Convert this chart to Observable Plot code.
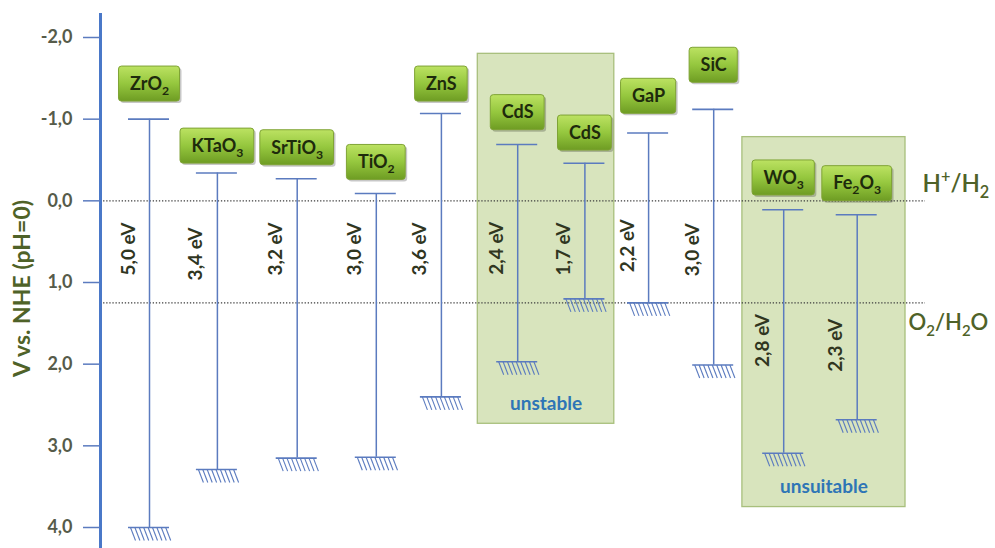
<!DOCTYPE html>
<html><head><meta charset="utf-8">
<script src="https://cdn.jsdelivr.net/npm/d3@7"></script>
<script src="https://cdn.jsdelivr.net/npm/@observablehq/plot@0.6"></script>
<style>
html,body{margin:0;padding:0;background:#fff;}
#chart svg{display:block;}
</style></head><body><div id="chart"></div>
<script>
// ---- data ----
const materials = ["ZrO_2","KTaO_3","SrTiO_3","TiO_2","ZnS","CdS","CdS","GaP","SiC","WO_3","Fe_2O_3"];
const slot = [0.70,1.67,2.81,3.94,4.87,5.96,6.92,7.83,8.76,9.76,10.81];
const conductionBand = [-1.00,-0.34,-0.27,-0.09,-1.07,-0.69,-0.46,-0.83,-1.12,0.11,0.17];
const valenceBand = [4.00,3.29,3.15,3.14,2.40,1.97,1.20,1.25,2.01,3.09,2.68];
const gapLabels = ["5,0 eV","3,4 eV","3,2 eV","3,0 eV","3,6 eV","2,4 eV","1,7 eV","2,2 eV","3,0 eV","2,8 eV","2,3 eV"];
const gapLabelV = [0.59,0.65,0.59,0.59,0.59,0.58,0.59,0.55,0.60,1.71,1.77];
const nameLabelV = [-1.43,-0.67,-0.65,-0.47,-1.43,-1.08,-0.83,-1.28,-1.66,-0.28,-0.21];
const yTicks = [-2,-1,0,1,2,3,4];
const yTickLabels = ["-2,0","-1,0","0,0","1,0","2,0","3,0","4,0"];
const redoxLabels = ["H^+/H_2","O_2/H_2O"];
const redoxV = [0, 1.25];
const regionLabels = ["unstable","unsuitable"];
const regionFrom = [5.39, 9.17];
const regionTo = [7.34, 11.50];
const regionTop = [-1.80, -0.78];
const regionBottom = [2.73, 3.75];
const yAxisLabel = "V vs. NHE (pH=0)";

// ---- layout ----
const W = 995, H = 548, mL = 100, mR = 20, mT = 37, mB = 21;
const xDomain = [0, 12.5], yDomain = [-2, 4];
const pxX = (W - mL - mR) / (xDomain[1] - xDomain[0]);
const pxY = (H - mT - mB) / (yDomain[1] - yDomain[0]);
const ux = p => p / pxX, uy = p => p / pxY;

const FONT = "Lato";
const boxFs = 18;
const ctx = document.createElement("canvas").getContext("2d");
function runs(s){
  const out = [];
  for (let i = 0; i < s.length; i++){
    let c = s[i], mode = 0;
    if ((c === "_" || c === "^") && i + 1 < s.length){ mode = c === "_" ? 1 : -1; c = s[++i]; }
    if (out.length && out[out.length-1].mode === mode) out[out.length-1].t += c;
    else out.push({mode, t: c});
  }
  return out;
}
function measure(s, fs){
  let w = 0;
  for (const r of runs(s)){
    ctx.font = `bold ${r.mode ? fs*0.68 : fs}px ${FONT}`;
    w += ctx.measureText(r.t).width;
  }
  return w;
}

const rows = materials.map((m, i) => ({
  name: m, x: slot[i], cb: conductionBand[i], vb: valenceBand[i],
  gap: gapLabels[i], gapV: gapLabelV[i], nameV: nameLabelV[i],
  w: measure(m, boxFs) + 22
}));
const hatch = rows.flatMap(r => d3.range(9).map(k => ({
  x1: r.x + ux(-19 + k*4.4), y1: r.vb,
  x2: r.x + ux(-19 + k*4.4 + 5), y2: r.vb + uy(13)
})));
const regions = regionLabels.map((l, i) => ({label: l, x1: regionFrom[i], x2: regionTo[i], top: regionTop[i], bottom: regionBottom[i]}));

const lineColor = "#5b7bbf";
const boxH = 35;

const svg = Plot.plot({
  width: W, height: H,
  marginLeft: mL, marginRight: mR, marginTop: mT, marginBottom: mB,
  style: {fontFamily: FONT, background: "#fff"},
  x: {domain: xDomain, axis: null},
  y: {domain: yDomain, reverse: true, axis: null},
  marks: [
    Plot.rect(regions, {x1: "x1", x2: "x2", y1: "top", y2: "bottom", fill: "#d8e4bd", stroke: "#a8bf7c", strokeWidth: 1.3}),
    Plot.ruleY(redoxV, {x1: xDomain[0], x2: xDomain[1] - ux(50), stroke: "#3c3c3c", strokeWidth: 1.4, strokeDasharray: "1.3,1.8"}),
    Plot.text(regions, {x: d => (d.x1 + d.x2)/2, y: "bottom", dy: -20, text: "label", fill: "#2e75b6", fontSize: 19, fontWeight: "bold"}),
    Plot.ruleX(rows, {x: "x", y1: "cb", y2: "vb", stroke: lineColor, strokeWidth: 1.5}),
    Plot.ruleY(rows, {y: "cb", x1: d => d.x - ux(21), x2: d => d.x + ux(20), stroke: lineColor, strokeWidth: 1.6}),
    Plot.ruleY(rows, {y: "vb", x1: d => d.x - ux(21), x2: d => d.x + ux(20), stroke: lineColor, strokeWidth: 1.6}),
    Plot.link(hatch, {x1: "x1", y1: "y1", x2: "x2", y2: "y2", stroke: lineColor, strokeWidth: 1.1}),
    Plot.text(rows, {x: "x", y: "gapV", text: "gap", rotate: -90, dx: -21, fontSize: 19, fontWeight: "bold", fill: "#30361f"}),
    Plot.rect(rows, {x1: d => d.x - ux(d.w/2), x2: d => d.x + ux(d.w/2), y1: d => d.nameV - uy(boxH/2), y2: d => d.nameV + uy(boxH/2), fill: "#000", fillOpacity: 0.22, dx: 2, dy: 2, rx: 3}),
    Plot.rect(rows, {x1: d => d.x - ux(d.w/2), x2: d => d.x + ux(d.w/2), y1: d => d.nameV - uy(boxH/2), y2: d => d.nameV + uy(boxH/2), fill: "url(#boxGrad)", stroke: "#7fa335", strokeWidth: 1, rx: 3}),
    Plot.text(rows, {x: "x", y: "nameV", text: "name", fontSize: boxFs, fontWeight: "bold", fill: "#1e2b0c"}),
    Plot.ruleX([xDomain[0]], {y1: yDomain[0] - uy(24), y2: yDomain[1] + uy(22), stroke: "#4a78c8", strokeWidth: 3}),
    Plot.axisY(yTicks, {anchor: "left", tickSize: 17, tickPadding: 11, tickFormat: d => yTickLabels[yTicks.indexOf(d)], stroke: lineColor, strokeWidth: 1.5, fill: "#565b4a", fontSize: 18, fontWeight: "bold", label: null}),
    Plot.text([yAxisLabel], {frameAnchor: "left", textAnchor: "middle", dx: -78, dy: 6, rotate: -90, fontSize: 23, fontWeight: "bold", fill: "#4f6228"}),
    Plot.text([redoxLabels[0]], {y: () => redoxV[0], frameAnchor: "right", textAnchor: "start", dx: -53, dy: -17, fontSize: 24, fontWeight: 600, fill: "#4f6228"}),
    Plot.text([redoxLabels[1]], {y: () => redoxV[1], frameAnchor: "right", textAnchor: "start", dx: -67, dy: 20, fontSize: 22, fontWeight: 600, fill: "#4f6228"})
  ]
});
document.getElementById("chart").appendChild(svg);

// gradient for label boxes
const defs = d3.select(svg).insert("defs", ":first-child");
const grad = defs.append("linearGradient").attr("id", "boxGrad").attr("x1", 0).attr("y1", 0).attr("x2", 0).attr("y2", 1);
grad.append("stop").attr("offset", "0%").attr("stop-color", "#bce262");
grad.append("stop").attr("offset", "50%").attr("stop-color", "#95c73e");
grad.append("stop").attr("offset", "100%").attr("stop-color", "#6e9c23");

// subscripts / superscripts as real tspans
const NS = "http://www.w3.org/2000/svg";
svg.querySelectorAll("text").forEach(el => {
  const s = el.textContent;
  if (!/[_^]/.test(s) || el.querySelector("tspan")) return;
  const fs = parseFloat(getComputedStyle(el).fontSize) || 16;
  while (el.firstChild) el.removeChild(el.firstChild);
  let shift = 0;
  for (const r of runs(s)){
    const t = document.createElementNS(NS, "tspan");
    const target = r.mode === 1 ? 0.28*fs : r.mode === -1 ? -0.38*fs : 0;
    if (target - shift !== 0) t.setAttribute("dy", target - shift);
    shift = target;
    if (r.mode) t.setAttribute("font-size", (0.68*fs).toFixed(1));
    t.textContent = r.t;
    el.appendChild(t);
  }
});
</script>
</body></html>
